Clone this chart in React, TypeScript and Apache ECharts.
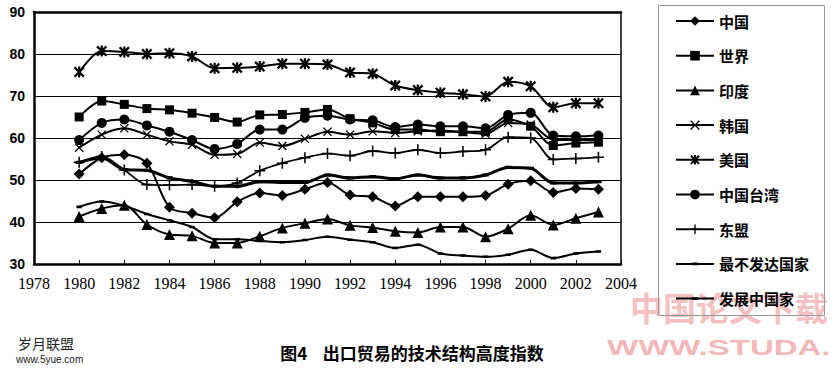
import React, { useEffect, useRef } from "react";
import * as echarts from "echarts";

const years = [1980, 1981, 1982, 1983, 1984, 1985, 1986, 1987, 1988, 1989, 1990, 1991, 1992, 1993, 1994, 1995, 1996, 1997, 1998, 1999, 2000, 2001, 2002, 2003];

const china = [51.4, 55.3, 56.0, 54.0, 43.5, 42.1, 41.0, 44.8, 46.9, 46.3, 47.8, 49.4, 46.4, 46.0, 43.8, 46.0, 46.0, 46.0, 46.3, 49.0, 49.8, 47.0, 48.0, 47.8];
const world = [65.0, 68.8, 68.0, 67.0, 66.7, 65.9, 64.9, 63.8, 65.5, 65.6, 66.1, 66.8, 64.6, 63.6, 62.0, 62.0, 61.5, 61.5, 61.5, 64.4, 62.8, 58.2, 58.8, 59.0];
const india = [41.3, 43.2, 44.0, 39.4, 37.0, 36.7, 35.0, 35.0, 36.6, 38.6, 39.7, 40.7, 39.2, 38.7, 37.8, 37.5, 38.8, 38.8, 36.5, 38.4, 41.6, 39.3, 40.9, 42.4];
const korea = [57.7, 60.8, 62.3, 60.8, 59.2, 58.4, 56.0, 56.2, 58.9, 58.1, 59.8, 61.5, 60.8, 61.6, 61.2, 61.6, 61.8, 61.4, 61.0, 63.6, 63.2, 59.6, 59.5, 59.6];
const usa = [75.7, 80.7, 80.5, 80.0, 80.2, 79.4, 76.6, 76.7, 77.0, 77.7, 77.7, 77.5, 75.6, 75.3, 72.5, 71.4, 70.8, 70.4, 69.9, 73.4, 72.3, 67.3, 68.3, 68.3];
const taiwan = [59.5, 63.6, 64.4, 63.0, 61.5, 59.5, 57.4, 58.6, 62.0, 62.0, 64.8, 65.3, 64.4, 64.2, 62.6, 63.2, 62.8, 62.8, 62.3, 65.5, 66.0, 60.6, 60.4, 60.6];
const asean = [54.2, 55.6, 52.4, 48.9, 48.8, 48.9, 48.5, 49.3, 52.2, 54.0, 55.3, 56.3, 55.8, 56.9, 56.4, 57.2, 56.4, 56.8, 57.2, 60.2, 60.0, 54.9, 55.1, 55.4];
const ldc = [43.6, 44.9, 43.9, 41.9, 40.4, 38.8, 35.9, 35.9, 35.5, 35.2, 35.7, 36.5, 35.8, 35.2, 33.8, 34.6, 32.5, 32.0, 31.7, 32.2, 33.4, 31.4, 32.5, 33.0];
const developing = [54.2, 55.3, 52.5, 52.3, 50.5, 49.7, 48.5, 48.5, 49.6, 49.4, 49.4, 51.2, 50.5, 50.8, 50.3, 51.2, 50.5, 50.5, 51.2, 53.0, 52.8, 49.3, 49.3, 49.6];

const seriesNames = ["中国", "世界", "印度", "韩国", "美国", "中国台湾", "东盟", "最不发达国家", "发展中国家"];
const xMin = 1978;
const xMax = 2004;
const xStep = 2;
const yMin = 30;
const yMax = 90;
const yStep = 10;
const caption = "图4    出口贸易的技术结构高度指数";

const X_PATH = "path://M0,1 L1,0 L5,4 L9,0 L10,1 L6,5 L10,9 L9,10 L5,6 L1,10 L0,9 L4,5 Z";
const STAR_PATH = "path://M0,1.5 L1.5,0 L5,3.5 L8.5,0 L10,1.5 L6.5,5 L10,8.5 L8.5,10 L5,6.5 L1.5,10 L0,8.5 L3.5,5 Z M4,0 L6,0 L6,10 L4,10 Z";
const PLUS_PATH = "path://M4.3,0 L5.7,0 L5.7,4.3 L10,4.3 L10,5.7 L5.7,5.7 L5.7,10 L4.3,10 L4.3,5.7 L0,5.7 L0,4.3 L4.3,4.3 Z";
const DASH_PATH = "path://M0,0 L0.01,0 L0,0.01 Z M2,3.6 L8,3.6 L8,6.4 L2,6.4 Z M10,10 L9.99,10 L10,9.99 Z";

function mk(name: string, values: number[], symbol: string, symbolSize: any, lineWidth = 2) {
  return {
    name,
    type: "line",
    data: years.map((y, i) => [y, values[i]]),
    symbol,
    symbolSize,
    showSymbol: true,
    smooth: 0.3,
    xAxisIndex: 0,
    yAxisIndex: 0,
    lineStyle: { color: "#000", width: lineWidth },
    itemStyle: { color: "#000", borderColor: "#000", borderWidth: 0 },
    emphasis: { disabled: true },
  };
}

export default function App() {
  const ref = useRef<HTMLDivElement>(null);
  useEffect(() => {
    if (!ref.current) return;
    const chart = echarts.init(ref.current, null, { renderer: "svg" });
    const series = [
      mk(seriesNames[0], china, "diamond", 11),
      mk(seriesNames[1], world, "rect", 9),
      mk(seriesNames[2], india, "triangle", 11),
      mk(seriesNames[3], korea, X_PATH, 9),
      mk(seriesNames[4], usa, STAR_PATH, 11),
      mk(seriesNames[5], taiwan, "circle", 10),
      mk(seriesNames[6], asean, PLUS_PATH, 11, 1.8),
      mk(seriesNames[7], ldc, DASH_PATH, 9, 2),
      mk(seriesNames[8], developing, DASH_PATH, 11, 3),
    ];
    chart.setOption({
      animation: false,
      backgroundColor: "#fff",
      grid: { left: 34, top: 12, width: 587, height: 252, containLabel: false },
      xAxis: [
        {
          type: "value",
          min: xMin,
          max: xMax,
          interval: xStep,
          position: "bottom",
          axisLine: { show: true, lineStyle: { color: "#000", width: 2.5 } },
          axisTick: { show: true, inside: true, length: 4, lineStyle: { color: "#000", width: 1 } },
          axisLabel: {
            fontFamily: "'Liberation Serif', 'DejaVu Serif', serif",
            fontSize: 16,
            color: "#000",
            margin: 11,
            formatter: (v: number) => String(v),
          },
          splitLine: { show: false },
        },
        {
          type: "value",
          min: xMin,
          max: xMax,
          interval: xStep,
          position: "top",
          axisLine: { show: true, lineStyle: { color: "#000", width: 2.5 } },
          axisTick: { show: false },
          axisLabel: { show: false },
          splitLine: { show: false },
        },
      ],
      yAxis: [
        {
          type: "value",
          min: yMin,
          max: yMax,
          interval: yStep,
          axisLine: { show: true, lineStyle: { color: "#000", width: 2.5 } },
          axisTick: { show: false },
          axisLabel: {
            fontFamily: "'Liberation Sans', Arial, sans-serif",
            fontWeight: "bold",
            fontSize: 14,
            color: "#000",
            margin: 9,
          },
          splitLine: { show: true, lineStyle: { color: "#000", width: 1 } },
        },
        {
          type: "value",
          min: yMin,
          max: yMax,
          interval: yStep,
          position: "right",
          axisLine: { show: true, lineStyle: { color: "#000", width: 1.5 } },
          axisTick: { show: false },
          axisLabel: { show: false },
          splitLine: { show: false },
        },
      ],
      legend: {
        data: seriesNames,
        orient: "vertical",
        left: 675,
        top: 13,
        padding: 0,
        itemWidth: 38,
        itemHeight: 12,
        itemGap: 18.7,
        selectedMode: false,
        textStyle: {
          fontFamily: "Noto Sans CJK SC",
          fontSize: 15,
          fontWeight: "bold",
          color: "#000",
          lineHeight: 16,
        },
      },
      graphic: [
        {
          type: "text",
          left: 630,
          top: 290,
          z: -10,
          silent: true,
          style: {
            text: "中国论文下载",
            fontFamily: "Noto Sans CJK SC",
            fontSize: 33,
            fontWeight: "bold",
            fill: "rgba(236,130,130,0.5)",
          },
        },
        {
          type: "text",
          x: 607,
          y: 337,
          scaleX: 1.5,
          z: -10,
          silent: true,
          style: {
            text: "WWW.STUDA.",
            fontFamily: "Liberation Sans",
            fontSize: 22,
            fontWeight: "bold",
            fill: "rgba(236,120,120,0.55)",
          },
        },
        {
          type: "rect",
          shape: { x: 658.5, y: 5.5, width: 166, height: 310 },
          z: -5,
          silent: true,
          style: { fill: "none", stroke: "#999", lineWidth: 1 },
        },
        {
          type: "text",
          x: 412,
          y: 352,
          silent: true,
          style: {
            text: caption,
            fontFamily: "Noto Sans CJK SC",
            fontSize: 17,
            fontWeight: "bold",
            fill: "#000",
            align: "center",
            verticalAlign: "middle",
          },
        },
        {
          type: "text",
          x: 18,
          y: 336,
          silent: true,
          style: {
            text: "岁月联盟",
            fontFamily: "Noto Sans CJK SC",
            fontSize: 14,
            fill: "#222",
          },
        },
        {
          type: "text",
          x: 16,
          y: 354,
          silent: true,
          style: {
            text: "www.5yue.com",
            fontFamily: "Liberation Sans",
            fontSize: 10,
            fill: "#222",
          },
        },
      ],
      series,
    });
    return () => chart.dispose();
  }, []);
  return (
    <div
      ref={ref}
      style={{ position: "fixed", left: 0, top: 0, width: 837, height: 372, background: "#fff" }}
    />
  );
}
